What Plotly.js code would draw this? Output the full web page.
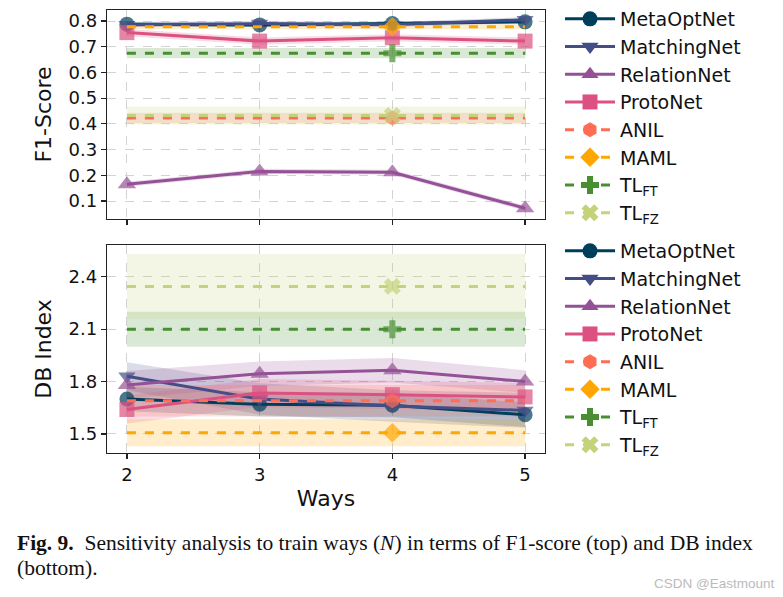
<!DOCTYPE html>
<html>
<head>
<meta charset="utf-8">
<script src="https://cdn.plot.ly/plotly-3.0.1.min.js"></script>
<style>
html,body{margin:0;padding:0;background:#fff;}
#chart{width:783px;height:597px;}
</style>
</head>
<body>
<div id="chart"></div>
<script>
// ---- data ----
const ways = [2, 3, 4, 5];
const methods = ["MetaOptNet", "MatchingNet", "RelationNet", "ProtoNet", "ANIL", "MAML", "TL<sub>FT</sub>", "TL<sub>FZ</sub>"];
const isBaseline = [false, false, false, false, true, true, true, true];
const baselineMarkerWay = 4;

// F1-score (top)
const f1MetaOptNet  = [0.788, 0.785, 0.790, 0.797];
const f1MatchingNet = [0.786, 0.790, 0.786, 0.805];
const f1RelationNet = [0.165, 0.215, 0.212, 0.072];
const f1ProtoNet    = [0.755, 0.722, 0.735, 0.722];
const f1ANIL        = [0.423, 0.423, 0.423, 0.423];
const f1MAML        = [0.778, 0.778, 0.778, 0.778];
const f1TLFT        = [0.675, 0.675, 0.675, 0.675];
const f1TLFZ        = [0.433, 0.433, 0.433, 0.433];
const f1Std = [
  [0.008, 0.008, 0.008, 0.008],
  [0.010, 0.010, 0.010, 0.010],
  [0.010, 0.010, 0.010, 0.010],
  [0.014, 0.014, 0.014, 0.014],
  [0.020, 0.020, 0.020, 0.020],
  [0.010, 0.010, 0.010, 0.010],
  [0.020, 0.020, 0.020, 0.020],
  [0.035, 0.035, 0.035, 0.035]
];

// DB index (bottom)
const dbMetaOptNet  = [1.700, 1.670, 1.665, 1.610];
const dbMatchingNet = [1.830, 1.700, 1.660, 1.635];
const dbRelationNet = [1.780, 1.845, 1.865, 1.800];
const dbProtoNet    = [1.640, 1.735, 1.725, 1.712];
const dbANIL        = [1.690, 1.690, 1.690, 1.690];
const dbMAML        = [1.507, 1.507, 1.507, 1.507];
const dbTLFT        = [2.100, 2.100, 2.100, 2.100];
const dbTLFZ        = [2.345, 2.345, 2.345, 2.345];
const dbStd = [
  [0.070, 0.070, 0.070, 0.070],
  [0.080, 0.090, 0.090, 0.100],
  [0.080, 0.070, 0.070, 0.065],
  [0.080, 0.080, 0.080, 0.080],
  [0.090, 0.090, 0.090, 0.090],
  [0.077, 0.077, 0.077, 0.077],
  [0.100, 0.100, 0.100, 0.100],
  [0.185, 0.185, 0.185, 0.185]
];

const f1Tick = [0.1, 0.2, 0.3, 0.4, 0.5, 0.6, 0.7, 0.8];
const dbTick = [1.5, 1.8, 2.1, 2.4];

// ---- styles ----
const colors = ["#003f5c", "#444e86", "#955196", "#dd5182", "#ff6e54", "#ffa600", "#488f31", "#c4d27a"];
const symbols = ["circle", "triangle-down", "triangle-up", "square", "hexagon", "diamond", "cross", "x"];
const msize = [15, 15, 16, 15, 15, 15, 15, 15];
const FONT = "DejaVu Sans";

function rgba(hex, a) {
  const n = parseInt(hex.slice(1), 16);
  return `rgba(${(n >> 16) & 255},${(n >> 8) & 255},${n & 255},${a})`;
}

const f1Series = [f1MetaOptNet, f1MatchingNet, f1RelationNet, f1ProtoNet, f1ANIL, f1MAML, f1TLFT, f1TLFZ];
const dbSeries = [dbMetaOptNet, dbMatchingNet, dbRelationNet, dbProtoNet, dbANIL, dbMAML, dbTLFT, dbTLFZ];

const traces = [];
function addPanel(series, stds, xa, ya, legendId) {
  // shaded bands (mean ± std) first, as closed polygons
  series.forEach((vals, i) => {
    const up = vals.map((v, k) => v + stds[i][k]);
    const lo = vals.map((v, k) => v - stds[i][k]);
    traces.push({x: ways.concat(ways.slice().reverse()), y: up.concat(lo.slice().reverse()),
      xaxis: xa, yaxis: ya, mode: "lines", line: {width: 0, color: colors[i]},
      fill: "toself", fillcolor: rgba(colors[i], 0.2), showlegend: false, hoverinfo: "skip"});
  });
  // lines and markers
  series.forEach((vals, i) => {
    const sizes = ways.map(w => (!isBaseline[i] || w === baselineMarkerWay) ? msize[i] : 0);
    traces.push({x: ways, y: vals, xaxis: xa, yaxis: ya, mode: "lines+markers",
      line: {color: colors[i], width: 3, dash: isBaseline[i] ? "dash" : "solid"},
      marker: {symbol: symbols[i], size: sizes, color: colors[i], line: {width: 0}},
      showlegend: false});
  });
  // legend entries
  series.forEach((vals, i) => {
    traces.push({x: [null], y: [null], xaxis: xa, yaxis: ya, mode: "lines+markers", name: methods[i],
      legend: legendId, showlegend: true,
      line: {color: colors[i], width: 3, dash: isBaseline[i] ? "dash" : "solid"},
      marker: {symbol: symbols[i], size: 15, color: colors[i], line: {width: 0}}});
  });
}
addPanel(f1Series, f1Std, "x2", "y2", "legend");
addPanel(dbSeries, dbStd, "x", "y", "legend2");

const W = 783, H = 597;
const px = v => v / W, py = v => 1 - v / H;

const axisCommon = {
  showline: true, mirror: true, linecolor: "#222", linewidth: 1.3,
  ticks: "outside", ticklen: 5, tickcolor: "#222", tickwidth: 1.2,
  showgrid: true, gridcolor: "#d3d3d3", griddash: "dash", gridwidth: 1,
  zeroline: false, tickfont: {family: FONT, size: 18, color: "#111"}
};

const legendCommon = {xanchor: "left", yanchor: "top", bgcolor: "rgba(0,0,0,0)", traceorder: "normal",
  font: {family: FONT, size: 19, color: "#111"}, itemwidth: 50, tracegroupgap: 0};

const layout = {
  width: W, height: H,
  margin: {l: 0, r: 0, t: 0, b: 0},
  paper_bgcolor: "#fff", plot_bgcolor: "#fff",
  showlegend: true,
  xaxis: Object.assign({}, axisCommon, {domain: [px(107), px(545)], anchor: "y", range: [1.85, 5.15],
    tickvals: ways, ticktext: ways.map(String),
    title: {text: "Ways", font: {family: FONT, size: 22, color: "#111"}, standoff: 6}}),
  yaxis: Object.assign({}, axisCommon, {domain: [py(453), py(245)], anchor: "x", range: [1.391, 2.582],
    tickvals: dbTick, ticktext: dbTick.map(v => v.toFixed(1)),
    title: {text: "DB Index", font: {family: FONT, size: 22, color: "#111"}, standoff: 10}}),
  xaxis2: Object.assign({}, axisCommon, {domain: [px(107), px(545)], anchor: "y2", range: [1.85, 5.15],
    tickvals: ways, showticklabels: false}),
  yaxis2: Object.assign({}, axisCommon, {domain: [py(219), py(10)], anchor: "x2", range: [0.03, 0.843],
    tickvals: f1Tick, ticktext: f1Tick.map(v => v.toFixed(1)),
    title: {text: "F1-Score", font: {family: FONT, size: 22, color: "#111"}, standoff: 10}}),
  legend: Object.assign({}, legendCommon, {x: px(560), y: py(0)}),
  legend2: Object.assign({}, legendCommon, {x: px(560), y: py(232)}),
  annotations: [
    {xref: "paper", yref: "paper", x: px(15), y: py(543), xanchor: "left", yanchor: "middle", showarrow: false,
     text: "<b>Fig. 9.</b>  Sensitivity analysis to train ways (<i>N</i>) in terms of F1-score (top) and DB index",
     font: {family: "Liberation Serif", size: 21.5, color: "#111"}},
    {xref: "paper", yref: "paper", x: px(15), y: py(568), xanchor: "left", yanchor: "middle", showarrow: false,
     text: "(bottom).", font: {family: "Liberation Serif", size: 21.5, color: "#111"}},
    {xref: "paper", yref: "paper", x: px(776), y: py(583), xanchor: "right", yanchor: "middle", showarrow: false,
     text: "CSDN @Eastmount", font: {family: "Liberation Sans Narrow, Liberation Sans", size: 13.5, color: "#bbb"}}
  ]
};

Plotly.newPlot("chart", traces, layout, {staticPlot: true, displayModeBar: false});
</script>
</body>
</html>
